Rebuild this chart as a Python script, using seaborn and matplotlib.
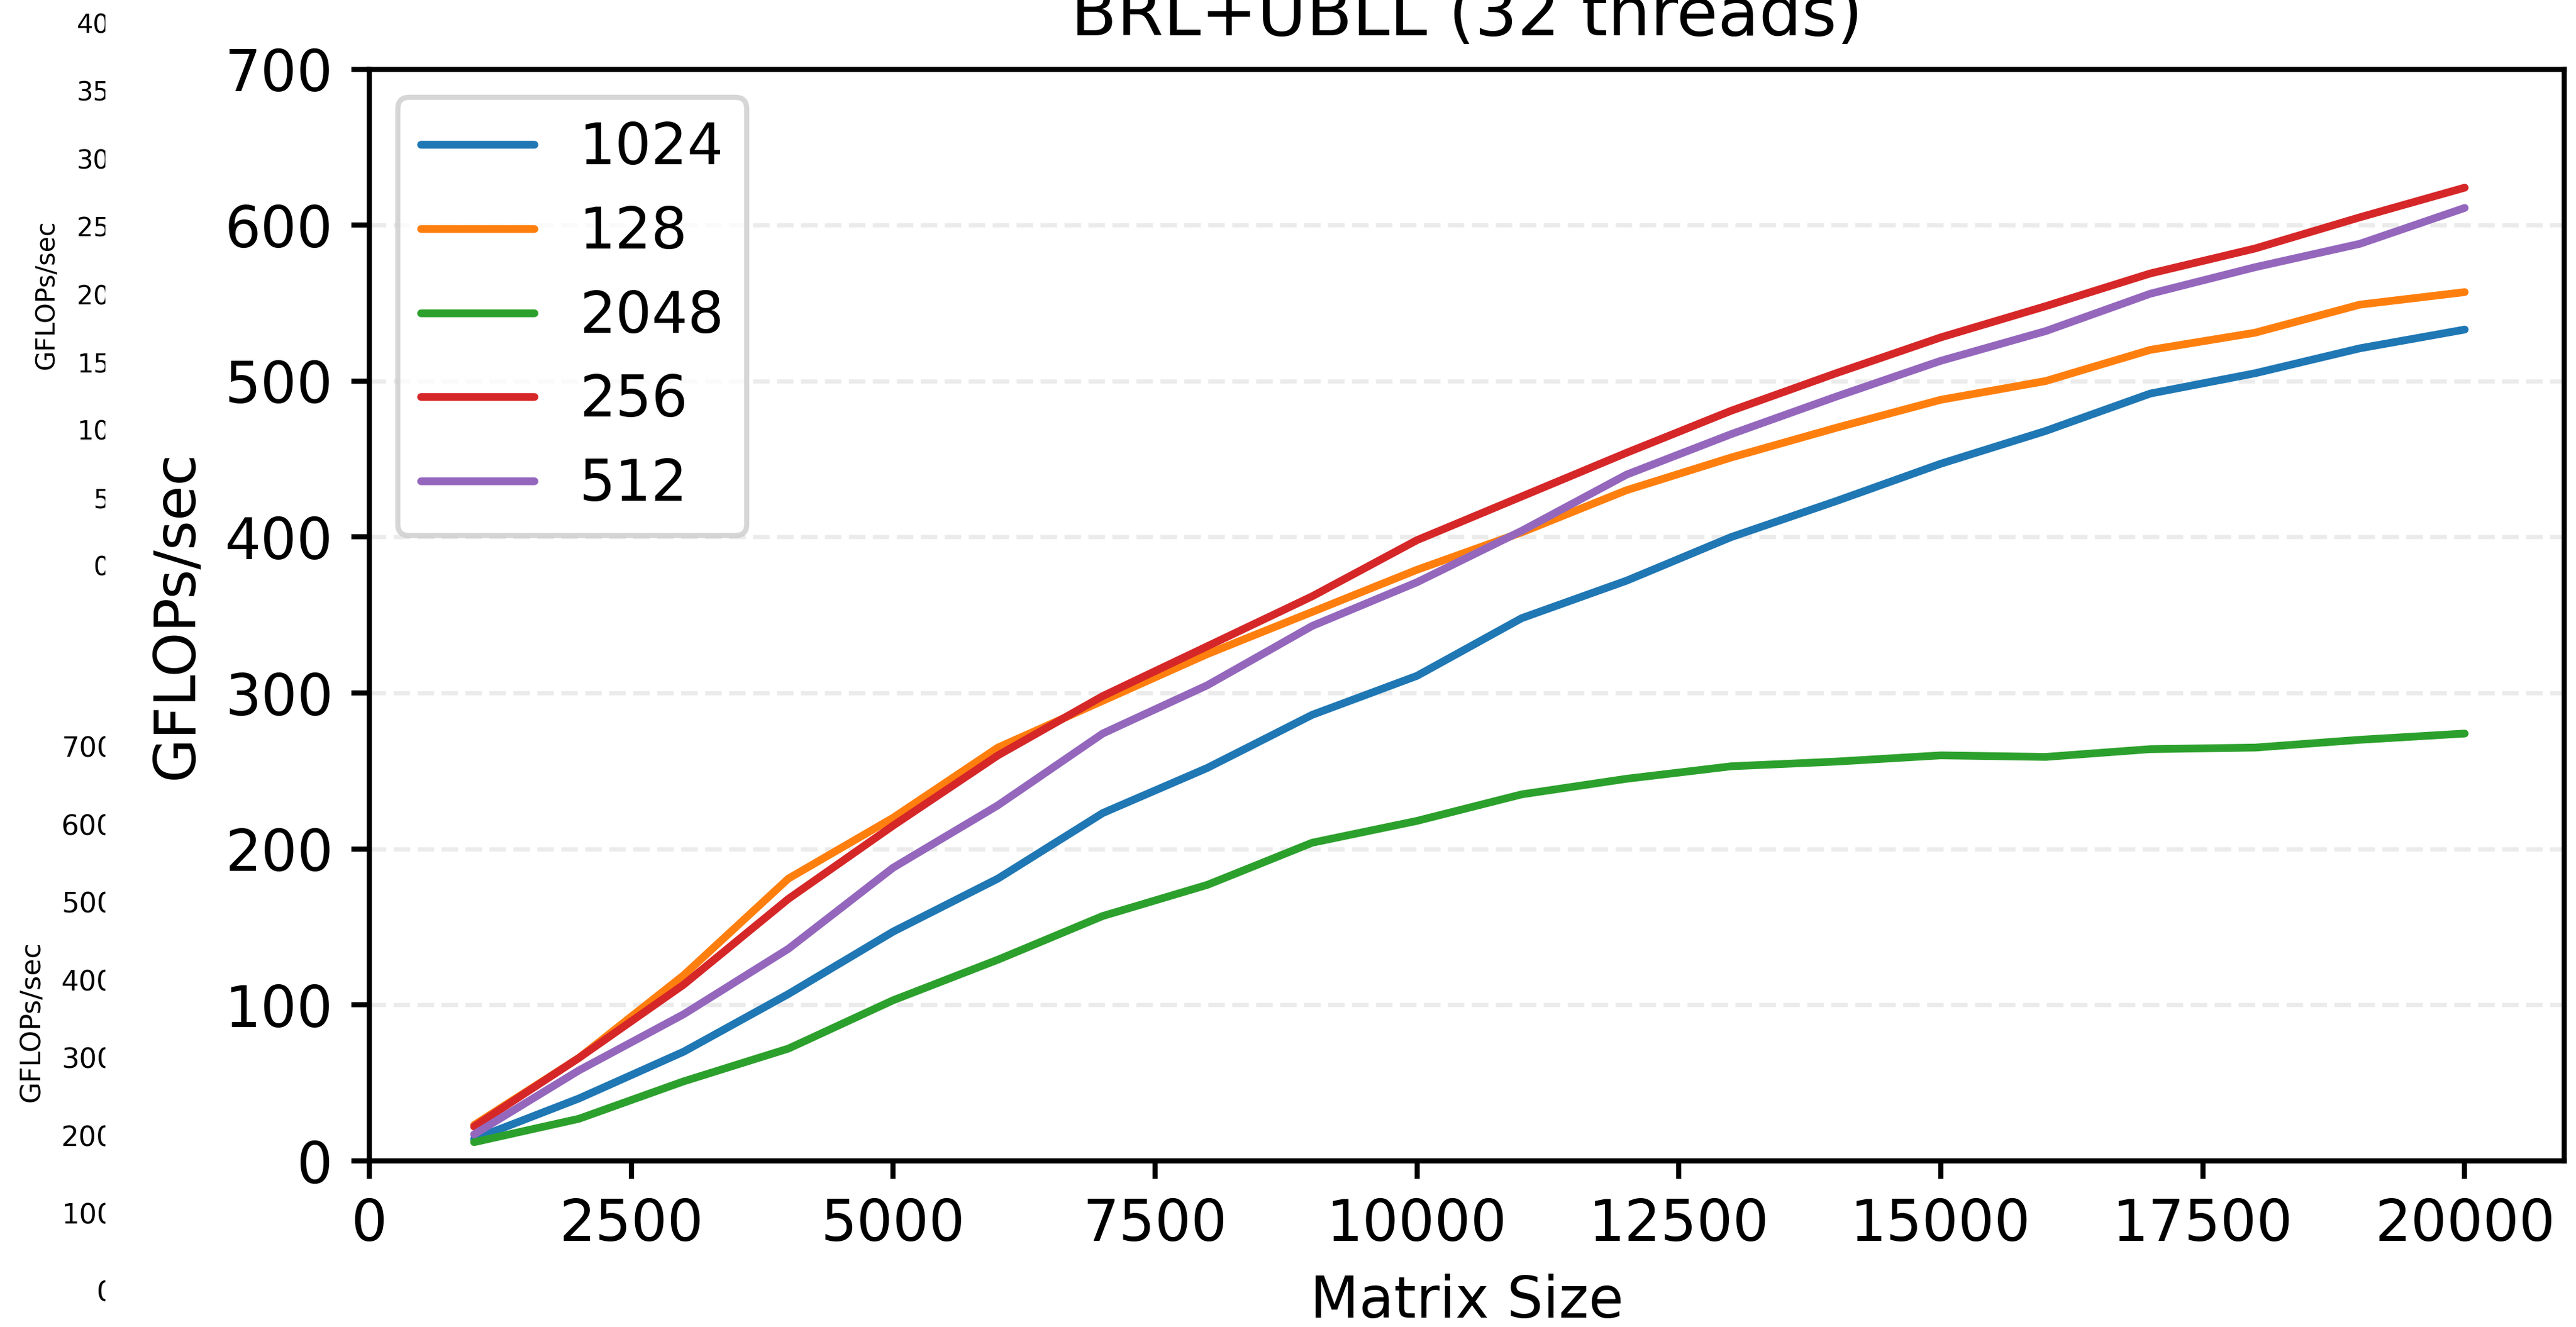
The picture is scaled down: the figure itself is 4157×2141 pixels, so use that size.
import matplotlib
matplotlib.use("Agg")
import matplotlib.pyplot as plt
from matplotlib.patches import Rectangle
from matplotlib.ticker import MultipleLocator
import seaborn as sns
import pandas as pd

# ---------------- data ----------------
matrix_sizes = [1000, 2000, 3000, 4000, 5000, 6000, 7000, 8000, 9000, 10000,
                11000, 12000, 13000, 14000, 15000, 16000, 17000, 18000, 19000, 20000]
block_labels = ["1024", "128", "2048", "256", "512"]
gflops_1024 = [14, 40, 70, 107, 147, 181, 223, 252, 286, 311,
               348, 372, 400, 423, 447, 468, 492, 505, 521, 533]
gflops_128 = [23, 66, 119, 181, 220, 265, 295, 325, 352, 379,
              403, 430, 451, 470, 488, 500, 520, 531, 549, 557]
gflops_2048 = [12, 27, 51, 72, 103, 129, 157, 177, 204, 218,
               235, 245, 253, 256, 260, 259, 264, 265, 270, 274]
gflops_256 = [22, 66, 113, 168, 215, 260, 298, 330, 362, 398,
              426, 454, 481, 505, 528, 548, 569, 585, 605, 624]
gflops_512 = [17, 58, 94, 136, 188, 228, 274, 305, 343, 371,
              404, 440, 466, 490, 513, 532, 556, 573, 588, 611]

title_text = "BRL+UBLL (32 threads)"
x_label = "Matrix Size"
y_label = "GFLOPs/sec"

# remnants of neighbouring panels (clipped tick labels on the far left)
ghost_top_ticks = [0, 5, 10, 15, 20, 25, 30, 35, 40]
ghost_bottom_ticks = [0, 100, 200, 300, 400, 500, 600, 700]

series = {"1024": gflops_1024, "128": gflops_128, "2048": gflops_2048,
          "256": gflops_256, "512": gflops_512}
rows = []
for lab in block_labels:
    for x, y in zip(matrix_sizes, series[lab]):
        rows.append({"Matrix Size": x, "GFLOPs/sec": y, "block": lab})
df = pd.DataFrame(rows)

# ---------------- style ----------------
sns.set_style("ticks")
plt.rcParams.update({
    "font.family": ["DejaVu Sans"],
    "axes.linewidth": 1.0,
    "xtick.major.size": 3.5, "ytick.major.size": 3.5,
    "xtick.major.width": 1.0, "ytick.major.width": 1.0,
    "xtick.major.pad": 3.5, "ytick.major.pad": 3.5,
    "xtick.labelsize": 11, "ytick.labelsize": 11,
    "axes.labelsize": 11, "legend.fontsize": 11,
    "axes.edgecolor": "black",
    "xtick.color": "black", "ytick.color": "black",
    "axes.labelcolor": "black", "text.color": "black",
})

W, H, DPI = 4157, 2141, 600
fig = plt.figure(figsize=(W / DPI, H / DPI), dpi=DPI)
fig.patch.set_facecolor("white")

# ---------------- ghost panels (behind a white mask) ----------------
def ghost_axis(left_px, zero_px, top_px, ticks, fsize, label_center):
    b = 1 - zero_px / H
    t = 1 - top_px / H
    gax = fig.add_axes([left_px / W, b, 0.2, t - b], zorder=-2)
    gax.set_facecolor("none")
    for s in gax.spines.values():
        s.set_visible(False)
    gax.set_xticks([])
    gax.set_ylim(ticks[0], ticks[-1])
    gax.set_yticks(ticks)
    gax.set_yticklabels([str(t_) for t_ in ticks], fontsize=fsize)
    gax.tick_params(axis="y", length=0, pad=0)
    gax.set_ylabel(y_label, fontsize=fsize, va="center", ha="center")
    gax.yaxis.set_label_coords(label_center[0] / W, 1 - label_center[1] / H,
                               transform=fig.transFigure)
    return gax

ghost_axis(177, 912, 37, ghost_top_ticks, 5.0, (75, 475))
ghost_axis(185, 2083, 1205, ghost_bottom_ticks, 5.4, (51, 1648))

mask = Rectangle((170 / W, 0), 1, 1, transform=fig.transFigure,
                 facecolor="white", edgecolor="none", zorder=-1)
fig.add_artist(mask)

# ---------------- main axes ----------------
ax = fig.add_axes([596 / W, 1 - 1873 / H, (4138 - 596) / W, (1873 - 111.5) / H], zorder=0)
ax.set_facecolor("white")

sns.lineplot(data=df, x="Matrix Size", y="GFLOPs/sec", hue="block",
             hue_order=block_labels, palette="tab10", linewidth=1.5,
             ax=ax, legend=True)

ax.set_xlim(0, 20950)
ax.set_ylim(0, 700)
ax.xaxis.set_major_locator(MultipleLocator(2500))
ax.yaxis.set_major_locator(MultipleLocator(100))

ax.yaxis.grid(True, linestyle=(0, (4.0, 1.8)), color="#ebebeb", linewidth=0.8)
ax.set_axisbelow(True)

for s in ax.spines.values():
    s.set_visible(True)
    s.set_linewidth(1.0)
    s.set_color("black")

ax.set_xlabel(x_label, fontsize=11)
ax.set_ylabel(y_label, fontsize=11)
ax.set_title(title_text, fontsize=13, pad=6.5)

old = ax.get_legend()
handles = old.legend_handles
labels = [t.get_text() for t in old.texts]
old.remove()
for h in handles:
    h.set_linewidth(1.5)
ax.legend(handles, labels, loc="upper left", fontsize=11, frameon=True)

fig.savefig("out.png", dpi=DPI, facecolor="white")
